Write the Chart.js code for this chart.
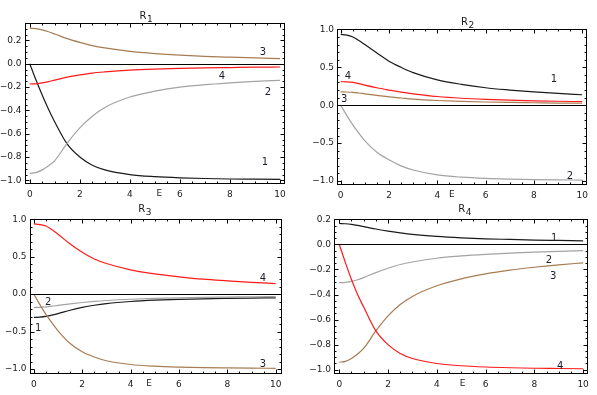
<!DOCTYPE html>
<html>
<head>
<meta charset="utf-8">
<script src="https://cdn.jsdelivr.net/npm/chart.js@4.4.1/dist/chart.umd.min.js"></script>
<style>
  html, body { margin: 0; padding: 0; background: #fff; }
  #wrap { position: relative; width: 597px; height: 395px; }
  canvas { position: absolute; left: 0; top: 0; }
</style>
</head>
<body>
<div id="wrap">
  <canvas id="c1" width="597" height="395"></canvas>
  <canvas id="c2" width="597" height="395"></canvas>
  <canvas id="c3" width="597" height="395"></canvas>
  <canvas id="c4" width="597" height="395"></canvas>
</div>
<script>
// sample points along E
const energies = [0, 0.25, 0.5, 0.75, 1, 1.5, 2, 2.5, 3, 4, 5, 6, 7, 8, 9, 10];
const xTicks = [0, 2, 4, 6, 8, 10];
const yTicksFine = [-1, -0.8, -0.6, -0.4, -0.2, 0, 0.2];
const yTicksCoarse = [-1, -0.5, 0, 0.5, 1];

// R1 components
const r1c1 = [0, -0.14, -0.27, -0.39, -0.5, -0.69, -0.8, -0.87, -0.91, -0.95, -0.968, -0.978, -0.984, -0.988, -0.99, -0.992];
const r1c2 = [-0.94, -0.933, -0.91, -0.875, -0.83, -0.68, -0.55, -0.45, -0.375, -0.285, -0.235, -0.2, -0.18, -0.165, -0.152, -0.142];
const r1c3 = [0.303, 0.3, 0.29, 0.274, 0.255, 0.215, 0.183, 0.155, 0.135, 0.106, 0.087, 0.073, 0.063, 0.056, 0.05, 0.044];
const r1c4 = [-0.174, -0.172, -0.165, -0.154, -0.14, -0.115, -0.096, -0.08, -0.07, -0.055, -0.046, -0.04, -0.036, -0.033, -0.03, -0.028];

// R2 components
const r2c1 = [0.935, 0.925, 0.9, 0.855, 0.8, 0.69, 0.58, 0.5, 0.43, 0.335, 0.275, 0.23, 0.2, 0.175, 0.155, 0.138];
const r2c2 = [0, -0.135, -0.26, -0.37, -0.47, -0.62, -0.72, -0.8, -0.855, -0.92, -0.95, -0.966, -0.975, -0.981, -0.985, -0.988];
const r2c3 = [0.175, 0.174, 0.17, 0.161, 0.15, 0.13, 0.11, 0.095, 0.08, 0.062, 0.05, 0.042, 0.036, 0.032, 0.028, 0.026];
const r2c4 = [0.31, 0.307, 0.3, 0.285, 0.265, 0.23, 0.2, 0.172, 0.15, 0.115, 0.092, 0.077, 0.066, 0.058, 0.052, 0.047];

// R3 components
const r3c1 = [-0.31, -0.307, -0.298, -0.281, -0.26, -0.215, -0.177, -0.148, -0.126, -0.098, -0.081, -0.07, -0.062, -0.057, -0.053, -0.05];
const r3c2 = [-0.178, -0.176, -0.17, -0.161, -0.15, -0.13, -0.112, -0.097, -0.085, -0.068, -0.057, -0.049, -0.043, -0.039, -0.035, -0.032];
const r3c3 = [0, -0.14, -0.27, -0.385, -0.49, -0.66, -0.77, -0.84, -0.89, -0.94, -0.963, -0.975, -0.982, -0.986, -0.989, -0.991];
const r3c4 = [0.938, 0.93, 0.91, 0.86, 0.8, 0.67, 0.56, 0.47, 0.41, 0.325, 0.27, 0.232, 0.2, 0.178, 0.158, 0.14];

// R4 components
const r4c1 = [0.167, 0.165, 0.16, 0.152, 0.142, 0.123, 0.106, 0.092, 0.08, 0.064, 0.053, 0.045, 0.04, 0.035, 0.032, 0.029];
const r4c2 = [-0.305, -0.302, -0.295, -0.282, -0.265, -0.225, -0.19, -0.16, -0.14, -0.11, -0.092, -0.079, -0.069, -0.061, -0.055, -0.05];
const r4c3 = [-0.94, -0.933, -0.91, -0.875, -0.83, -0.69, -0.57, -0.48, -0.415, -0.33, -0.275, -0.235, -0.205, -0.182, -0.163, -0.147];
const r4c4 = [0, -0.145, -0.28, -0.4, -0.5, -0.69, -0.8, -0.87, -0.91, -0.95, -0.968, -0.978, -0.984, -0.988, -0.99, -0.992];

const colors = ["#1a1a1a", "#a3a3a3", "#a87c52", "#ff1a1a"];
const FONT = "9px 'DejaVu Sans'";
const YW = 24, XH = 16;

const panels = [
  { id: "c1", sub: "1", series: [r1c1, r1c2, r1c3, r1c4], yTicks: yTicksFine, yMinor: 0.05,
    rect: [24.5, 23, 285, 184], x: [-0.21, 10.2], y: [-1.031, 0.349],
    title: [139.5, 18.5], eAt: 5.18,
    labels: [["3", 9.32, 0.094], ["4", 7.68, -0.111], ["2", 9.52, -0.249], ["1", 9.4, -0.848]] },
  { id: "c2", sub: "2", series: [r2c1, r2c2, r2c3, r2c4], yTicks: yTicksCoarse, yMinor: 0.1,
    rect: [337, 28.5, 587, 185], x: [-0.153, 10.2], y: [-1.053, 1.012],
    title: [461, 24.5], eAt: 4.6,
    labels: [["1", 8.83, 0.334], ["4", 0.3, 0.374], ["3", 0.14, 0.07], ["2", 9.49, -0.934]] },
  { id: "c3", sub: "3", series: [r3c1, r3c2, r3c3, r3c4], yTicks: yTicksCoarse, yMinor: 0.1,
    rect: [29.5, 219, 282, 374], x: [-0.18, 10.26], y: [-1.067, 1.004],
    title: [138.3, 211.5], eAt: 4.76,
    labels: [["4", 9.47, 0.204], ["2", 0.59, -0.116], ["1", 0.18, -0.463], ["3", 9.47, -0.943]] },
  { id: "c4", sub: "4", series: [r4c1, r4c2, r4c3, r4c4], yTicks: yTicksFine, yMinor: 0.05,
    rect: [334, 218.5, 587.5, 374], x: [-0.217, 10.18], y: [-1.034, 0.207],
    title: [458.3, 212], eAt: 5.06,
    labels: [["1", 8.81, 0.05], ["2", 8.6, -0.125], ["3", 8.77, -0.252], ["4", 9.06, -0.976]] }
];

function fmtY(v) {
  const s = Math.abs(v).toFixed(1);
  return v < 0 ? "\u2212" + s : s;
}

const framePlugin = {
  id: "mmaFrame",
  afterDraw(chart) {
    const p = chart.options.plugins.mmaFrame.panel;
    const ctx = chart.ctx, a = chart.chartArea;
    const xs = chart.scales.x, ys = chart.scales.y;
    const L = Math.round(a.left) + 0.5, R = Math.round(a.right) - 0.5;
    const T = Math.round(a.top) + 0.5, B = Math.round(a.bottom) - 0.5;
    ctx.save();
    ctx.strokeStyle = "#000";
    ctx.lineWidth = 1;

    // zero axis
    const y0 = Math.round(ys.getPixelForValue(0)) + 0.5;
    ctx.beginPath();
    ctx.moveTo(L, y0); ctx.lineTo(R, y0);
    ctx.stroke();

    ctx.beginPath();
    // x ticks, every 0.5
    for (let i = Math.ceil(p.x[0] / 0.5); i <= Math.floor(p.x[1] / 0.5); i++) {
      const v = i * 0.5;
      const len = (i % 4 === 0) ? 4 : 2;
      const px = Math.round(xs.getPixelForValue(v)) + 0.5;
      ctx.moveTo(px, B); ctx.lineTo(px, B - len);
      ctx.moveTo(px, T); ctx.lineTo(px, T + len);
    }
    // y ticks
    const per = Math.round((p.yTicks[1] - p.yTicks[0]) / p.yMinor);
    for (let i = Math.ceil(p.y[0] / p.yMinor - 1e-6); i <= Math.floor(p.y[1] / p.yMinor + 1e-6); i++) {
      const v = i * p.yMinor;
      const len = (i % per === 0) ? 4 : 2;
      const py = Math.round(ys.getPixelForValue(v)) + 0.5;
      ctx.moveTo(L, py); ctx.lineTo(L + len, py);
      ctx.moveTo(R, py); ctx.lineTo(R - len, py);
    }
    ctx.stroke();

    // frame
    ctx.strokeRect(L, T, R - L, B - T);

    // curve numbers
    ctx.fillStyle = "#1c1c2c";
    ctx.font = "10px 'DejaVu Sans'";
    ctx.textAlign = "center";
    ctx.textBaseline = "middle";
    p.labels.forEach(([t, x, y]) => {
      ctx.fillText(t, xs.getPixelForValue(x), ys.getPixelForValue(y));
    });

    // E label on the tick row
    ctx.font = FONT;
    ctx.fillStyle = "#1a1a1a";
    ctx.textBaseline = "top";
    ctx.fillText("E", xs.getPixelForValue(p.eAt), a.bottom + 5);

    // title R with subscript
    ctx.textAlign = "left";
    ctx.textBaseline = "alphabetic";
    ctx.font = "10px 'DejaVu Sans'";
    ctx.fillText("R", p.title[0], p.title[1]);
    ctx.font = "9px 'DejaVu Sans'";
    ctx.fillText(p.sub, p.title[0] + 7.5, p.title[1] + 3);
    ctx.restore();
  }
};

panels.forEach(p => {
  const datasets = p.series.map((vals, k) => ({
    label: String(k + 1),
    data: energies.map((e, j) => ({ x: e, y: vals[j] })),
    borderColor: colors[k],
    borderWidth: 1.2,
    pointRadius: 0,
    cubicInterpolationMode: "monotone",
    order: 4 - k
  }));
  const [L, T, R, B] = p.rect;
  new Chart(document.getElementById(p.id), {
    type: "line",
    data: { datasets },
    options: {
      responsive: false,
      animation: false,
      devicePixelRatio: 1,
      events: [],
      layout: { padding: { left: L - YW, top: T, right: 597 - R, bottom: 395 - B - XH } },
      plugins: {
        legend: { display: false },
        tooltip: { enabled: false },
        mmaFrame: { panel: p }
      },
      scales: {
        x: {
          type: "linear",
          min: p.x[0], max: p.x[1],
          grid: { display: false, drawTicks: false },
          border: { display: false },
          afterFit: s => { s.height = XH; },
          afterBuildTicks: s => { s.ticks = xTicks.map(v => ({ value: v })); },
          ticks: {
            autoSkip: false, maxRotation: 0, padding: 5,
            color: "#1a1a1a", font: { family: "DejaVu Sans", size: 9 },
            callback: v => String(v)
          }
        },
        y: {
          type: "linear",
          min: p.y[0], max: p.y[1],
          grid: { display: false, drawTicks: false },
          border: { display: false },
          afterFit: s => { s.width = YW; },
          afterBuildTicks: s => { s.ticks = p.yTicks.map(v => ({ value: v })); },
          ticks: {
            autoSkip: false, padding: 3,
            color: "#1a1a1a", font: { family: "DejaVu Sans", size: 9 },
            callback: v => fmtY(v)
          }
        }
      }
    },
    plugins: [framePlugin]
  });
});
</script>
</body>
</html>
